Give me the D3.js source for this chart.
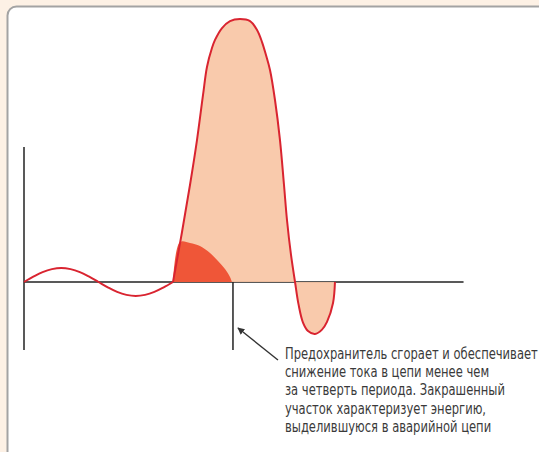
<!DOCTYPE html>
<html>
<head>
<meta charset="utf-8">
<script src="https://cdn.jsdelivr.net/npm/d3@7"></script>
<style>
  html, body { margin: 0; padding: 0; background: #fdf1e5; }
  #canvas { width: 539px; height: 452px; overflow: hidden; }
</style>
</head>
<body>
<div id="canvas"></div>
<script>
// time (ms) / current (multiples of nominal amplitude)
const normalT = [0, 1.25, 2.5, 3.75, 5, 6.25, 7.5, 8.75, 10, 11.25, 12.5, 13.75, 15, 16.25, 17.5, 18.75, 20];
const normalI = [0, 0.38, 0.71, 0.92, 1, 0.92, 0.71, 0.38, 0, -0.38, -0.71, -0.92, -1, -0.92, -0.71, -0.38, 0];

const faultT = [20, 21.21, 22.28, 23.22, 24.03, 24.56, 25.23, 25.64, 26.58, 27.65, 28.99, 30.34, 31.28, 31.95, 32.48, 33.02, 33.69, 34.36, 34.9, 35.3, 35.84, 36.38, 36.85, 37.45, 38.12, 39.06, 40.0, 40.67, 41.48, 41.74];
const faultI = [0, 3.57, 6.93, 10.14, 13.36, 15.36, 16.71, 17.29, 18.14, 18.64, 18.79, 18.64, 18.0, 17.14, 16.21, 15.14, 13.0, 10.14, 6.93, 4.43, 1.93, 0, -1.6, -2.9, -3.5, -3.71, -3.4, -2.85, -1.5, 0];

// shaded energy region (rising edge + cut-off arc)
const energyT = [20, 20.94, 22.28, 23.62, 24.97, 26.04, 26.98, 27.65, 27.92];
const energyI = [0, 2.86, 2.79, 2.57, 2.07, 1.5, 0.93, 0.36, 0];

const axisT = [0, 59];
const axisI = [-4.86, 9.64];
const fuseT = 28.05;

const arrowFrom = [34.09, -5.57];
const arrowTo = [28.72, -3.29];

const noteLines = [
  "Предохранитель сгорает и обеспечивает",
  "снижение тока в цепи менее чем",
  "за четверть периода. Закрашенный",
  "участок характеризует энергию,",
  "выделившуюся в аварийной цепи"
];
const noteAnchor = [35.03, -5.5];

const W = 539, H = 452;
const x = d3.scaleLinear().domain([0, 59]).range([24, 463.55]);
const y = d3.scaleLinear().domain([-5, 20]).range([352, 2]);

const svg = d3.select("#canvas").append("svg")
  .attr("width", W).attr("height", H);

// white panel
svg.append("rect")
  .attr("x", 7.5).attr("y", 6.5)
  .attr("width", W + 20).attr("height", H + 20)
  .attr("rx", 9)
  .attr("fill", "#fff")
  .attr("stroke", "#a3a3a3")
  .attr("stroke-width", 2);

const zip = (ts, is) => ts.map((t, k) => ({ t, i: is[k] }));
const normal = zip(normalT, normalI);
const fault = zip(faultT, faultI);
const energy = zip(energyT, energyI);

// axes
svg.append("line")
  .attr("x1", x(axisT[0])).attr("x2", x(axisT[1]))
  .attr("y1", y(0)).attr("y2", y(0))
  .attr("stroke", "#222").attr("stroke-width", 1.5);
svg.append("line")
  .attr("x1", x(0)).attr("x2", x(0))
  .attr("y1", y(axisI[0])).attr("y2", y(axisI[1]))
  .attr("stroke", "#222").attr("stroke-width", 1.5);
svg.append("line")
  .attr("x1", x(fuseT)).attr("x2", x(fuseT))
  .attr("y1", y(0)).attr("y2", y(axisI[0]))
  .attr("stroke", "#222").attr("stroke-width", 1.5);

const area = d3.area()
  .x(d => x(d.t)).y0(y(0)).y1(d => y(d.i))
  .curve(d3.curveCatmullRom);
const line = d3.line()
  .x(d => x(d.t)).y(d => y(d.i))
  .curve(d3.curveCatmullRom);

svg.append("path")
  .datum(fault)
  .attr("d", area)
  .attr("fill", "#f8c6a5")
  .attr("fill-opacity", 0.92);

svg.append("path")
  .attr("d", line(energy) + "Z")
  .attr("fill", "#ef5638");

svg.append("path")
  .datum(normal)
  .attr("d", line)
  .attr("fill", "none")
  .attr("stroke", "#d92430")
  .attr("stroke-width", 2);

svg.append("path")
  .datum(fault)
  .attr("d", line)
  .attr("fill", "none")
  .attr("stroke", "#d92430")
  .attr("stroke-width", 2);

// arrow
svg.append("defs").append("marker")
  .attr("id", "head")
  .attr("viewBox", "0 0 10 10")
  .attr("refX", 9).attr("refY", 5)
  .attr("markerWidth", 7).attr("markerHeight", 7)
  .attr("markerUnits", "userSpaceOnUse")
  .attr("orient", "auto")
  .append("path")
  .attr("d", "M0,0L10,5L0,10Z")
  .attr("fill", "#333");

svg.append("line")
  .attr("x1", x(arrowFrom[0])).attr("y1", y(arrowFrom[1]))
  .attr("x2", x(arrowTo[0])).attr("y2", y(arrowTo[1]))
  .attr("stroke", "#333").attr("stroke-width", 1.4)
  .attr("marker-end", "url(#head)");

// note, one text per line
const note = svg.append("g");
note.selectAll("text")
  .data(noteLines)
  .enter()
  .append("text")
  .attr("x", 0)
  .attr("y", (d, k) => k * 18.2)
  .attr("font-family", "'Liberation Sans Narrow', 'DejaVu Sans Condensed', sans-serif")
  .attr("font-size", 15.5)
  .attr("fill", "#3a3a3a")
  .text(d => d);

const firstLen = note.select("text").node().getComputedTextLength();
const sx = 253 / firstLen;
note.attr("transform", `translate(${x(noteAnchor[0])},${y(noteAnchor[1])}) scale(${sx},1)`);
</script>
</body>
</html>
